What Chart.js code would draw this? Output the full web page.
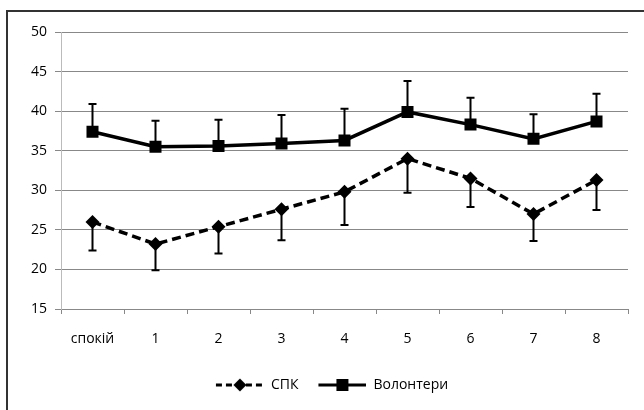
<!DOCTYPE html>
<html>
<head>
<meta charset="utf-8">
<script src="https://cdn.jsdelivr.net/npm/chart.js@4/dist/chart.umd.min.js"></script>
<style>
  html, body { margin: 0; padding: 0; background: #fff; }
  #wrap { width: 644px; height: 410px; }
</style>
</head>
<body>
<div id="wrap"><canvas id="c" width="644" height="410"></canvas></div>
<script>
const categories = ['спокій', '1', '2', '3', '4', '5', '6', '7', '8'];
const spk = [26.0, 23.2, 25.4, 27.6, 29.8, 34.0, 31.5, 27.0, 31.3];
const spkLower = [22.4, 19.9, 22.0, 23.7, 25.6, 29.7, 27.9, 23.6, 27.5];
const volunteers = [37.4, 35.5, 35.6, 35.9, 36.3, 39.9, 38.3, 36.5, 38.7];
const volunteersUpper = [40.9, 38.8, 38.9, 39.5, 40.3, 43.8, 41.7, 39.6, 42.2];
const seriesNames = ['СПК', 'Волонтери'];
const errorEnds = [spkLower, volunteersUpper];

function legendIcon(kind) {
  const c = document.createElement('canvas');
  c.width = 58; c.height = 14;
  const g = c.getContext('2d');
  g.strokeStyle = '#000'; g.fillStyle = '#000'; g.lineWidth = 3;
  if (kind === 'dash') g.setLineDash([6, 4]);
  g.beginPath(); g.moveTo(10, 7); g.lineTo(58, 7); g.stroke();
  g.setLineDash([]);
  if (kind === 'dash') {
    g.beginPath(); g.moveTo(34, 0.5); g.lineTo(40.5, 7); g.lineTo(34, 13.5); g.lineTo(27.5, 7); g.closePath(); g.fill();
  } else {
    g.fillRect(28, 1, 12, 12);
  }
  return c;
}
const icons = [legendIcon('dash'), legendIcon('solid')];

const frameAndErrors = {
  id: 'frameAndErrors',
  beforeDraw(chart) {
    const ctx = chart.ctx;
    ctx.save();
    ctx.strokeStyle = '#333';
    ctx.lineWidth = 2;
    ctx.beginPath();
    ctx.moveTo(7, 410); ctx.lineTo(7, 11); ctx.lineTo(644, 11);
    ctx.stroke();
    ctx.restore();
  },
  beforeDatasetsDraw(chart) {
    const ctx = chart.ctx;
    const x = chart.scales.x, y = chart.scales.y;
    ctx.save();
    ctx.strokeStyle = '#000';
    ctx.lineWidth = 2;
    chart.data.datasets.forEach((ds, di) => {
      const ends = errorEnds[di];
      ds.data.forEach((v, i) => {
        const px = x.getPixelForValue(i);
        const py0 = y.getPixelForValue(v);
        const py1 = y.getPixelForValue(ends[i]);
        ctx.beginPath();
        ctx.moveTo(px, py0); ctx.lineTo(px, py1);
        ctx.moveTo(px - 4, py1); ctx.lineTo(px + 4, py1);
        ctx.stroke();
      });
    });
    ctx.restore();
  }
};

new Chart(document.getElementById('c'), {
  type: 'line',
  data: {
    labels: categories,
    datasets: [
      {
        label: seriesNames[0],
        data: spk,
        borderColor: '#000',
        backgroundColor: '#000',
        borderWidth: 3.5,
        borderDash: [9, 5],
        pointStyle: 'rectRot',
        pointRadius: 7,
        pointBorderWidth: 0,
        pointBackgroundColor: '#000',
        tension: 0
      },
      {
        label: seriesNames[1],
        data: volunteers,
        borderColor: '#000',
        backgroundColor: '#000',
        borderWidth: 3.5,
        pointStyle: 'rect',
        pointRadius: 8.5,
        pointBorderWidth: 0,
        pointBackgroundColor: '#000',
        tension: 0
      }
    ]
  },
  options: {
    responsive: false,
    animation: false,
    devicePixelRatio: 1,
    layout: { padding: { top: 32, right: 16, bottom: 8, left: 26 } },
    plugins: {
      tooltip: { enabled: false },
      legend: {
        position: 'bottom',
        labels: {
          usePointStyle: true,
          pointStyleWidth: 58,
          padding: 10,
          color: '#000',
          font: { family: '"Open Sans", sans-serif', size: 14 },
          generateLabels(chart) {
            const items = Chart.defaults.plugins.legend.labels.generateLabels(chart);
            items.forEach((it, i) => { it.pointStyle = icons[i]; });
            return items;
          }
        }
      }
    },
    scales: {
      x: {
        offset: true,
        grid: { offset: true, drawOnChartArea: false, drawTicks: true, tickLength: 5, color: '#888' },
        border: { color: '#888', width: 1 },
        ticks: { color: '#000', padding: 17, font: { family: '"Open Sans", sans-serif', size: 14 } },
        afterFit(s) { s.height = 59; }
      },
      y: {
        min: 15, max: 50,
        ticks: { stepSize: 5, color: '#000', padding: 8, font: { family: '"Open Sans", sans-serif', size: 14 } },
        grid: { color: '#888', lineWidth: 1, tickLength: 6 },
        border: { color: '#bbb', width: 1 },
        afterFit(s) { s.width = 35; }
      }
    }
  },
  plugins: [frameAndErrors]
});
</script>
</body>
</html>
